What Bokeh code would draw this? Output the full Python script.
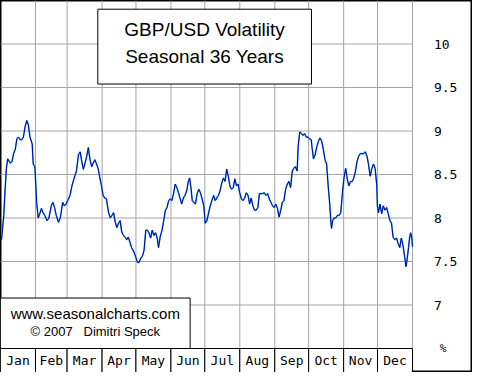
from bokeh.plotting import figure
from bokeh.models import Range1d
from bokeh.core.properties import value
from bokeh.embed import file_html
from bokeh.resources import INLINE

# ---------------- data ----------------
months = ["Jan", "Feb", "Mar", "Apr", "May", "Jun",
          "Jul", "Aug", "Sep", "Oct", "Nov", "Dec"]
month_days = [31, 28, 31, 30, 31, 30, 31, 31, 30, 31, 30, 31]
y_ticks = [7, 7.5, 8, 8.5, 9, 9.5, 10]
y_tick_labels = ["7", "7.5", "8", "8.5", "9", "9.5", "10"]
unit_label = "%"
title_lines = ["GBP/USD Volatility", "Seasonal 36 Years"]
credit_lines = ["www.seasonalcharts.com",
                "\u00a9 2007\u00a0\u00a0\u00a0Dimitri Speck"]

day = [0.9, 2.9, 4.1, 5.2, 6.4, 8.7, 10.2, 11.6, 13.1, 14.5, 15.9, 17.4, 18.9, 20.3,
       21.8, 23.3, 24.7, 26.1, 28.1, 29.0, 30.5, 32.0, 33.4, 34.8, 36.3, 37.7, 39.2,
       41.2, 42.9, 45.0, 46.4, 47.9, 49.4, 51.4, 53.1, 55.1, 56.6, 58.1, 59.5, 61.6,
       63.3, 65.3, 67.3, 69.1, 70.6, 72.0, 73.4, 74.9, 76.4, 77.8, 79.3, 80.8, 82.1,
       83.6, 85.1, 86.5, 88.0, 89.5, 90.9, 92.3, 93.8, 95.8, 97.3, 98.7, 100.2, 101.7,
       103.1, 104.5, 106.0, 107.4, 108.9, 110.4, 111.8, 113.2, 114.7, 116.1, 118.2,
       119.6, 121.3, 122.8, 124.3, 125.7, 127.2, 128.7, 130.1, 131.5, 133.0, 134.4,
       135.9, 137.4, 138.8, 140.0, 141.4, 143.1, 144.6, 146.1, 147.5, 149.0, 150.4,
       151.8, 153.3, 154.8, 156.2, 157.7, 159.2, 160.5, 162.0, 163.5, 164.9, 166.4,
       167.5, 168.7, 169.9, 171.3, 172.7, 174.2, 175.7, 177.1, 178.6, 180.1, 181.4,
       182.9, 184.4, 185.8, 187.3, 188.8, 190.2, 191.6, 193.1, 194.5, 196.0, 197.5,
       198.9, 200.4, 201.8, 203.2, 204.7, 206.2, 207.6, 209.1, 210.5, 211.9, 213.4,
       214.9, 216.3, 217.8, 219.3, 220.7, 222.1, 223.6, 225.0, 226.5, 228.0, 229.4,
       230.8, 232.3, 233.7, 235.2, 236.7, 238.1, 239.6, 241.0, 242.4, 243.9, 245.4,
       246.8, 248.3, 249.7, 251.1, 252.6, 254.1, 255.5, 257.0, 258.5, 259.8, 261.3,
       262.8, 263.7, 265.1, 266.6, 268.0, 269.4, 270.9, 272.4, 273.8, 275.3, 275.9,
       277.3, 278.8, 280.2, 281.6, 283.1, 284.6, 286.0, 287.5, 288.9, 290.3, 291.8,
       292.7, 293.3, 294.2, 295.6, 297.0, 298.5, 299.9, 301.4, 302.9, 304.3, 305.8,
       307.2, 308.6, 310.1, 311.6, 313.0, 314.5, 315.9, 317.3, 318.8, 320.3, 321.7,
       323.2, 324.7, 326.0, 327.5, 329.0, 330.4, 331.9, 333.4, 333.9, 334.8, 336.2,
       337.7, 339.1, 340.6, 342.1, 343.5, 345.0, 346.4, 347.8, 349.3, 350.8, 352.2,
       353.7, 355.1, 356.5, 358.0, 359.2, 360.0, 361.5, 362.4, 363.3, 364.4, 365.0]

vol = [7.75, 8.03, 8.33, 8.57, 8.68, 8.63, 8.65, 8.74, 8.79, 8.91, 8.93, 8.90, 8.90, 8.93,
       9.05, 9.12, 9.07, 8.93, 8.85, 8.62, 8.59, 8.18, 8.00, 8.05, 8.11, 8.06, 8.03,
       7.97, 8.00, 8.14, 8.18, 8.12, 8.03, 7.95, 8.01, 8.18, 8.14, 8.16, 8.20, 8.26,
       8.37, 8.46, 8.54, 8.73, 8.76, 8.65, 8.56, 8.63, 8.71, 8.81, 8.67, 8.59, 8.63,
       8.67, 8.62, 8.57, 8.46, 8.37, 8.26, 8.23, 8.22, 8.06, 8.00, 8.03, 8.06, 7.95,
       7.89, 7.94, 7.97, 7.84, 7.80, 7.78, 7.75, 7.78, 7.72, 7.66, 7.61,
       7.56, 7.49, 7.49, 7.54, 7.56, 7.63, 7.86, 7.86, 7.83, 7.77, 7.86,
       7.80, 7.83, 7.77, 7.66, 7.78, 7.86, 7.97, 8.09, 8.12, 8.20, 8.22,
       8.20, 8.28, 8.39, 8.35, 8.29, 8.22, 8.16, 8.23, 8.26, 8.31, 8.42,
       8.46, 8.35, 8.20, 8.18, 8.16, 8.28, 8.33, 8.29, 8.22, 8.14, 7.94,
       7.97, 8.06, 8.14, 8.20, 8.26, 8.20, 8.23, 8.26, 8.31, 8.40, 8.46,
       8.42, 8.56, 8.48, 8.37, 8.33, 8.35, 8.45, 8.37, 8.39, 8.29, 8.22,
       8.20, 8.23, 8.29, 8.26, 8.16, 8.23, 8.14, 8.09, 8.09, 8.12, 8.28,
       8.28, 8.28, 8.29, 8.26, 8.28, 8.22, 8.18, 8.14, 8.12, 8.16, 8.11,
       8.01, 8.09, 8.18, 8.20, 8.33, 8.39, 8.42, 8.35, 8.54, 8.57, 8.59,
       8.54, 8.82, 8.99, 8.97, 8.95, 8.97, 8.93, 8.93, 8.91, 8.90, 8.82,
       8.68, 8.73, 8.82, 8.88, 8.92, 8.88, 8.79, 8.67, 8.62, 8.37, 8.14,
       7.95, 7.88, 7.97, 8.00, 8.00, 8.03, 8.03, 8.06, 8.28, 8.46, 8.57,
       8.45, 8.37, 8.42, 8.42, 8.46, 8.54, 8.65, 8.71, 8.74, 8.74, 8.74,
       8.76, 8.71, 8.62, 8.48, 8.57, 8.62, 8.57, 8.37, 8.14, 8.06, 8.16,
       8.05, 8.14, 8.09, 8.12, 8.05, 7.97, 7.94, 7.78, 7.75, 7.77, 7.71,
       7.66, 7.77, 7.69, 7.56, 7.44, 7.50, 7.66, 7.77, 7.83, 7.77, 7.67]

# ---------------- layout ----------------
W, H = 472, 372
YEAR = sum(month_days)
PLOT_W = 412            # pixel width of the chart area
PLOT_H = 348            # pixel height of the chart area
Y_TOP, Y_BOT = 10.5, 6.5
px_per_unit = PLOT_H / (Y_TOP - Y_BOT)
y_lo = Y_BOT - (H - PLOT_H) / px_per_unit
x_hi = YEAR * W / PLOT_W

p = figure(width=W, height=H, output_backend="svg", toolbar_location=None,
           x_range=Range1d(0, x_hi), y_range=Range1d(y_lo, Y_TOP),
           min_border=0, background_fill_color="white",
           border_fill_color="white")
p.axis.visible = False
p.xgrid.visible = False
p.ygrid.visible = False
p.outline_line_color = "black"
p.outline_line_width = 2

starts = [sum(month_days[:i]) for i in range(12)]
ends = [s + d for s, d in zip(starts, month_days)]
mids = [(s + e) / 2 for s, e in zip(starts, ends)]

grid_col = "#a4a4a4"
# horizontal grid
p.segment(x0=[0] * len(y_ticks), x1=[YEAR] * len(y_ticks), y0=y_ticks, y1=y_ticks,
          line_color=grid_col, line_width=1)
# vertical grid at month boundaries
p.segment(x0=ends, x1=ends, y0=[Y_BOT] * 12, y1=[Y_TOP] * 12,
          line_color=grid_col, line_width=1)

# month strip
p.quad(left=starts, right=ends, bottom=[y_lo] * 12, top=[Y_BOT] * 12,
       fill_color="white", line_color="black", line_width=1)
p.text(x=mids, y=[(y_lo + Y_BOT) / 2] * 12, text=months,
       text_font=value("DejaVu Sans Mono"), text_font_size=value("13px"),
       text_align="center", text_baseline="middle", text_color="black")

# right tick labels
lab_x = YEAR + 19
p.text(x=[lab_x] * len(y_ticks), y=y_ticks, text=y_tick_labels,
       text_font=value("DejaVu Sans Mono"), text_font_size=value("13px"),
       text_align="left", text_baseline="middle", text_color="black")
p.text(x=[lab_x + 8], y=[Y_BOT], text=[unit_label],
       text_font=value("DejaVu Sans Mono"), text_font_size=value("11px"),
       text_align="center", text_baseline="middle", text_color="black")

# data line
p.line(day, vol, line_color="#40b0d8", line_width=1.6)
p.line(day, vol, line_color="#0000b0", line_width=1.0)

# title box
p.quad(left=[86.2], right=[275.5], bottom=[9.54], top=[10.40],
       fill_color="white", line_color="black", line_width=1)
p.text(x=[180.8, 180.8], y=[10.165, 9.855], text=title_lines,
       text_font=value("Liberation Sans"), text_font_size=value("19px"),
       text_align="center", text_baseline="middle", text_color="black")

# credit box
p.quad(left=[0], right=[168], bottom=[Y_BOT], top=[7.08],
       fill_color="white", line_color="black", line_width=1)
p.text(x=[84], y=[6.90], text=[credit_lines[0]],
       text_font=value("Liberation Sans"), text_font_size=value("15px"),
       text_align="center", text_baseline="middle", text_color="black")
p.text(x=[84], y=[6.695], text=[credit_lines[1]],
       text_font=value("Liberation Sans"), text_font_size=value("13px"),
       text_align="center", text_baseline="middle", text_color="black")

open("out.html", "w").write(file_html(p, INLINE))
